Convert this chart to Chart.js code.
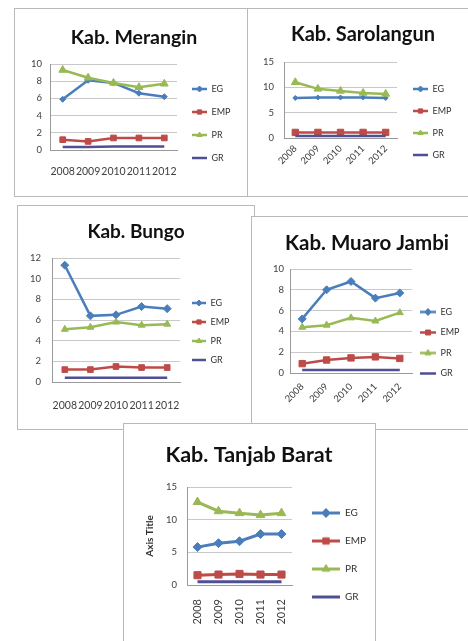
<!DOCTYPE html>
<html><head><meta charset="utf-8">
<script src="https://cdn.jsdelivr.net/npm/chart.js@4.4.0/dist/chart.umd.min.js"></script>
<style>
html,body{margin:0;padding:0;background:#fff;width:468px;height:641px;overflow:hidden;position:relative}
.panel{position:absolute;background:#fff;border:1px solid #b9b9b9;box-sizing:border-box;overflow:hidden}
.panel canvas{position:absolute;left:0;top:0}
</style></head><body>
<script>
// ---- data ----
const years = ['2008', '2009', '2010', '2011', '2012'];
const seriesNames = ['EG', 'EMP', 'PR', 'GR'];

const meranginEG  = [5.9, 8.1, 7.8, 6.6, 6.2];
const meranginEMP = [1.2, 1.0, 1.4, 1.4, 1.4];
const meranginPR  = [9.3, 8.4, 7.8, 7.3, 7.7];
const meranginGR  = [0.35, 0.35, 0.4, 0.4, 0.4];
const meranginTicks = [0, 2, 4, 6, 8, 10];

const sarolangunEG  = [7.9, 8.0, 8.0, 8.0, 7.9];
const sarolangunEMP = [1.1, 1.1, 1.1, 1.1, 1.1];
const sarolangunPR  = [11.0, 9.7, 9.3, 8.9, 8.7];
const sarolangunGR  = [0.4, 0.4, 0.4, 0.4, 0.4];
const sarolangunTicks = [0, 5, 10, 15];

const bungoEG  = [11.3, 6.4, 6.5, 7.3, 7.1];
const bungoEMP = [1.2, 1.2, 1.5, 1.4, 1.4];
const bungoPR  = [5.1, 5.3, 5.8, 5.5, 5.6];
const bungoGR  = [0.4, 0.4, 0.4, 0.4, 0.4];
const bungoTicks = [0, 2, 4, 6, 8, 10, 12];

const muaroEG  = [5.2, 8.0, 8.8, 7.2, 7.7];
const muaroEMP = [0.9, 1.25, 1.45, 1.55, 1.4];
const muaroPR  = [4.4, 4.6, 5.3, 5.0, 5.8];
const muaroGR  = [0.3, 0.3, 0.3, 0.3, 0.3];
const muaroTicks = [0, 2, 4, 6, 8, 10];

const tanjabEG  = [5.8, 6.4, 6.7, 7.8, 7.8];
const tanjabEMP = [1.5, 1.6, 1.7, 1.6, 1.6];
const tanjabPR  = [12.7, 11.3, 11.0, 10.7, 11.0];
const tanjabGR  = [0.5, 0.5, 0.5, 0.5, 0.5];
const tanjabTicks = [0, 5, 10, 15];

// ---- styles ----
const colors = ['#4A7EBB', '#BE4B48', '#98B954', '#4F4F93'];
const markers = ['rectRot', 'rect', 'triangle', false];
const FONT = 'Lato, "Liberation Sans", sans-serif';

const placer = {
  id: 'placer',
  afterUpdate(chart, args, o) {
    const lg = chart.legend;
    if (lg && o && o.legend) {
      const pad = lg.options.labels.padding;
      lg.left = o.legend.x - pad; lg.right = lg.left + 200; lg.width = 200;
      lg.top = o.legend.y - o.legend.fs / 2 - pad; lg.bottom = lg.top + 1000; lg.height = 1000;
    }
    const tb = chart.titleBlock;
    if (tb && o && o.title) {
      tb.left = o.title.cx - 300; tb.right = o.title.cx + 300; tb.width = 600;
    }
  }
};

function makeIcon(color, style, w, lw, r) {
  const c = document.createElement('canvas');
  const h = Math.ceil(r * 2 + 4);
  c.width = w; c.height = h;
  const g = c.getContext('2d');
  g.strokeStyle = color; g.lineWidth = lw;
  g.beginPath(); g.moveTo(0, h / 2); g.lineTo(w, h / 2); g.stroke();
  if (style) {
    g.fillStyle = color; g.strokeStyle = color; g.lineWidth = 1;
    Chart.helpers.drawPoint(g, {pointStyle: style, radius: r, rotation: 0, borderWidth: 1}, w / 2, h / 2);
  }
  return c;
}

function makePanel(p) {
  const div = document.createElement('div');
  div.className = 'panel';
  Object.assign(div.style, {left: p.box[0] + 'px', top: p.box[1] + 'px', width: p.box[2] + 'px', height: p.box[3] + 'px'});
  const W = p.box[2] - 2, H = p.box[3] - 2;
  const cv = document.createElement('canvas');
  cv.width = W; cv.height = H; cv.style.width = W + 'px'; cv.style.height = H + 'px';
  div.appendChild(cv);
  document.body.appendChild(div);
  const [L, T, R, B] = p.plot;
  const lh = p.titleSize * 1.2;
  const icons = colors.map((c, i) => makeIcon(c, markers[i], p.legend.bw, p.lw, p.legend.mr));
  const datasets = p.series.map((vals, i) => ({
    label: seriesNames[i],
    data: vals,
    borderColor: colors[i],
    backgroundColor: colors[i],
    borderWidth: p.lw,
    pointStyle: markers[i],
    pointRadius: markers[i] ? p.pr[i] : 0,
    pointBorderWidth: 1,
    tension: 0,
    order: 3 - i
  }));
  const yTitle = p.yTitle ? {display: true, text: p.yTitle, color: '#333', font: {family: FONT, size: 10, weight: 'bold'}, padding: {top: p.yTitlePad, bottom: 0}} : {display: false};
  new Chart(cv, {
    type: 'line',
    data: {labels: years, datasets},
    plugins: [placer],
    options: {
      responsive: false, animation: false, devicePixelRatio: 1,
      layout: {padding: {left: 0, top: 0, right: W - R, bottom: 0}},
      plugins: {
        tooltip: {enabled: false},
        title: {display: true, text: p.title, color: '#111', font: {family: FONT, size: p.titleSize, weight: 'bold'},
          padding: {top: p.titleCY - lh / 2, bottom: T - p.titleCY - lh / 2}},
        legend: {
          position: 'chartArea', align: 'start',
          labels: {
            usePointStyle: true, pointStyleWidth: p.legend.bw, padding: p.legend.sp - p.legend.fs,
            color: '#333', font: {family: FONT, size: p.legend.fs},
            sort: (a, b) => a.datasetIndex - b.datasetIndex,
            generateLabels(chart) {
              const items = Chart.defaults.plugins.legend.labels.generateLabels(chart);
              items.forEach(it => { it.pointStyle = icons[it.datasetIndex]; });
              return items;
            }
          }
        },
        placer: {legend: {x: p.legend.x, y: p.legend.y, fs: p.legend.fs}, title: {cx: p.titleCX}}
      },
      scales: {
        x: {
          offset: true,
          grid: {display: false, drawTicks: false},
          border: {display: true, color: '#9a9a9a'},
          ticks: {autoSkip: false, minRotation: p.rot, maxRotation: p.rot, padding: p.xpad, color: '#404040', font: {family: FONT, size: p.xfs}},
          afterFit: s => { s.height = H - B; }
        },
        y: {
          min: p.yticks[0], max: p.yticks[p.yticks.length - 1],
          grid: {color: '#c8c8c8', drawTicks: false},
          border: {display: true, color: '#9a9a9a'},
          ticks: {padding: p.ypad, color: '#404040', font: {family: FONT, size: 9.5}},
          title: yTitle,
          afterBuildTicks: s => { s.ticks = p.yticks.map(v => ({value: v})); },
          afterFit: s => { s.width = L; }
        }
      }
    }
  });
}

makePanel({
  box: [14, 8, 234, 189], plot: [35, 55, 162, 141],
  title: 'Kab. Merangin', titleSize: 19.5, titleCX: 119, titleCY: 29,
  series: [meranginEG, meranginEMP, meranginPR, meranginGR], yticks: meranginTicks,
  rot: 0, xpad: 15, xfs: 10.5, ypad: 8, lw: 2.5, pr: [3, 4, 4.5, 0],
  legend: {x: 177, y: 80, sp: 23, bw: 15, fs: 9, mr: 3}
});
makePanel({
  box: [247, 8, 224, 189], plot: [36, 53, 149, 129],
  title: 'Kab. Sarolangun', titleSize: 20, titleCX: 115, titleCY: 26,
  series: [sarolangunEG, sarolangunEMP, sarolangunPR, sarolangunGR], yticks: sarolangunTicks,
  rot: 45, xpad: 5, xfs: 9.5, ypad: 10, lw: 2.5, pr: [2.5, 4.5, 4.5, 0],
  legend: {x: 165, y: 80, sp: 22, bw: 15, fs: 9, mr: 3}
});
makePanel({
  box: [17, 205, 238, 225], plot: [34, 52, 162, 176],
  title: 'Kab. Bungo', titleSize: 19, titleCX: 118, titleCY: 26,
  series: [bungoEG, bungoEMP, bungoPR, bungoGR], yticks: bungoTicks,
  rot: 0, xpad: 17, xfs: 10.5, ypad: 11, lw: 2.5, pr: [4, 4, 4, 0],
  legend: {x: 174, y: 97, sp: 19, bw: 14, fs: 9, mr: 3}
});
makePanel({
  box: [251, 216, 220, 214], plot: [38, 52, 160, 156],
  title: 'Kab. Muaro Jambi', titleSize: 20.5, titleCX: 115, titleCY: 26,
  series: [muaroEG, muaroEMP, muaroPR, muaroGR], yticks: muaroTicks,
  rot: 45, xpad: 8, xfs: 9.5, ypad: 6, lw: 2.5, pr: [4, 4.5, 4, 0],
  legend: {x: 168, y: 95, sp: 20.5, bw: 16, fs: 9, mr: 3.5}
});
makePanel({
  box: [123, 423, 253, 222], plot: [63, 63, 168, 161],
  title: 'Kab. Tanjab Barat', titleSize: 21.5, titleCX: 125, titleCY: 31,
  series: [tanjabEG, tanjabEMP, tanjabPR, tanjabGR], yticks: tanjabTicks,
  rot: 90, xpad: 14, xfs: 11, ypad: 10, lw: 3, pr: [4.5, 5, 5, 0],
  yTitle: 'Axis Title', yTitlePad: 20,
  legend: {x: 188, y: 89, sp: 28, bw: 28, fs: 10, mr: 4.5}
});
</script>
</body></html>
